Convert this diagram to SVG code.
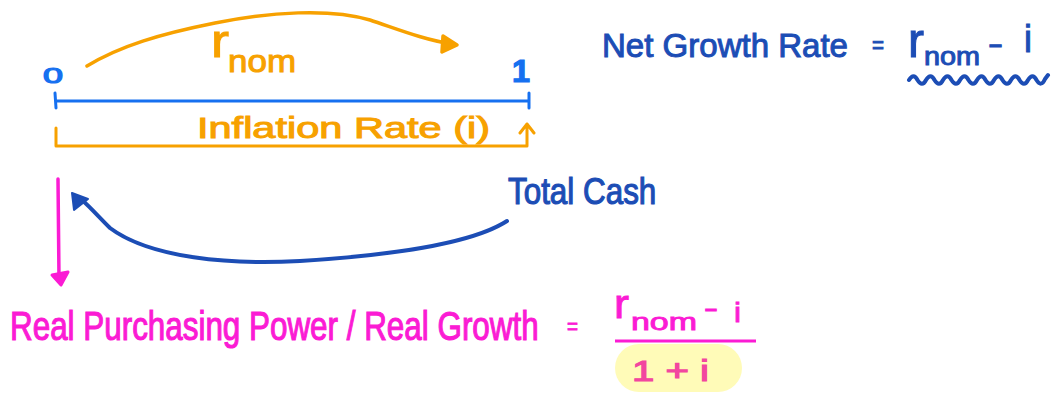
<svg xmlns="http://www.w3.org/2000/svg" width="1057" height="394" viewBox="0 0 1057 394">
<style>
text{font-family:"Liberation Sans",Arial,sans-serif;}
.or{fill:#f7a100;stroke:#f7a100;stroke-width:1;}
.bl{fill:#1670f0;stroke:#1670f0;stroke-width:1.2;}
.db{fill:#1c4db5;stroke:#1c4db5;stroke-width:1;}
.mg{fill:#fb1bd4;stroke:#fb1bd4;stroke-width:0.9;}
.pk{fill:#f2469f;stroke:#f2469f;stroke-width:1.2;}
.ln{fill:none;stroke-linecap:round;stroke-linejoin:round;}
.fo{fill:#f7a100;stroke:#f7a100;stroke-linejoin:round;}
.fb{fill:#1c4db5;stroke:#1c4db5;stroke-linejoin:round;}
.fm{fill:#fb1bd4;stroke:#fb1bd4;stroke-linejoin:round;}
</style>
<rect width="1057" height="394" fill="#ffffff"/>

<g id="timeline">
  <text class="bl" x="43" y="83" font-size="22" textLength="20" lengthAdjust="spacingAndGlyphs">0</text>
  <text class="bl" x="512" y="82" font-size="32" font-weight="bold" textLength="18" lengthAdjust="spacingAndGlyphs">1</text>
  <path class="ln" d="M56,101 L529,101 M55,93 L56,108 M529,93 L529,108" stroke="#1670f0" stroke-width="3"/>
</g>

<g id="nominal-rate">
  <text class="or" x="211" y="57" font-size="46" textLength="18" lengthAdjust="spacingAndGlyphs">r</text>
  <text class="or" x="228" y="72" font-size="32" textLength="68" lengthAdjust="spacingAndGlyphs">nom</text>
</g>

<g id="inflation-rate">
  <text class="or" x="197" y="138" font-size="29" textLength="293" lengthAdjust="spacingAndGlyphs">Inflation Rate (i)</text>
</g>

<g id="net-growth">
  <text class="db" x="602" y="57" font-size="33" textLength="246" lengthAdjust="spacingAndGlyphs">Net Growth Rate</text>
  <text class="db" x="872" y="53" font-size="24" textLength="12" lengthAdjust="spacingAndGlyphs">=</text>
  <text class="db" x="908" y="57" font-size="48" textLength="16" lengthAdjust="spacingAndGlyphs">r</text>
  <text class="db" x="924" y="65" font-size="26" textLength="56" lengthAdjust="spacingAndGlyphs">nom</text>
  <text class="db" x="988" y="54" font-size="30" textLength="15" lengthAdjust="spacingAndGlyphs">-</text>
  <text class="db" x="1024" y="52" font-size="38" textLength="8" lengthAdjust="spacingAndGlyphs">i</text>
  <path class="ln" stroke="#1c4db5" stroke-width="4" d="M909,80 c3,-5 6,-5 8.5,0 c3,5 6,5 8.5,0 c3,-5 6,-5 8.5,0 c3,5 6,5 8.5,0 c3,-5 6,-5 8.5,0 c3,5 6,5 8.5,0 c3,-5 6,-5 8.5,0 c3,5 6,5 8.5,0 c3,-5 6,-5 8.5,0 c3,5 6,5 8.5,0 c3,-5 6,-5 8.5,0 c3,5 6,5 8.5,0 c3,-5 6,-5 8.5,0 c3,5 6,5 8.5,0 c3,-5 6,-5 8.5,0 c3,5 6,5 8.5,-1 l3,-4"/>
</g>

<g id="total-cash">
  <text class="db" transform="translate(508,204) scale(1,1.2)" x="0" y="0" font-size="31.4">Total Cash</text>
</g>

<g id="real-growth">
  <text class="mg" transform="translate(10,340) scale(1,1.3)" x="0" y="0" font-size="31.4">Real Purchasing Power / Real Growth</text>
  <text class="mg" x="567" y="334" font-size="22" textLength="11" lengthAdjust="spacingAndGlyphs">=</text>
  <text class="mg" x="614" y="318" font-size="40" textLength="15" lengthAdjust="spacingAndGlyphs">r</text>
  <text class="mg" x="631" y="330" font-size="24" textLength="66" lengthAdjust="spacingAndGlyphs">nom</text>
  <text class="mg" x="704" y="317" font-size="26" textLength="14" lengthAdjust="spacingAndGlyphs">-</text>
  <text class="mg" x="734" y="322" font-size="28" textLength="7" lengthAdjust="spacingAndGlyphs">i</text>
  <line x1="615" y1="341" x2="756" y2="341" stroke="#fb1bd4" stroke-width="3"/>
  <rect x="615" y="344" width="127" height="48" rx="24" fill="#fffbb8"/>
  <text class="pk" x="632" y="381" font-size="30" textLength="77" lengthAdjust="spacingAndGlyphs">1 + i</text>
</g>

<g id="connectors">
  <path class="ln" stroke="#f7a100" stroke-width="3.5" d="M87,66 C120,46 160,34 215,23 C270,12 330,8 370,20 C400,30 425,40 452,44"/>
  <path class="fo" stroke-width="3.5" d="M443,36 L457,45 L442,52 Z"/>
  <path class="ln" stroke="#f7a100" stroke-width="3" d="M56,128 L56,146 L527,146 L527,124 M520,133 L527,124 L534,133"/>
  <path class="ln" stroke="#1c4db5" stroke-width="4" d="M507,221 C470,245 380,256 300,261 C230,265 150,258 110,228 C98,216 90,207 82,200"/>
  <path class="fb" stroke-width="2" d="M72,193 L88,199 L74,210 Z"/>
  <path class="ln" stroke="#fb1bd4" stroke-width="3.5" d="M58,179 L59,278"/>
  <path class="fm" stroke-width="3" d="M52,275 L68,272 L61,285 Z"/>
</g>
</svg>
